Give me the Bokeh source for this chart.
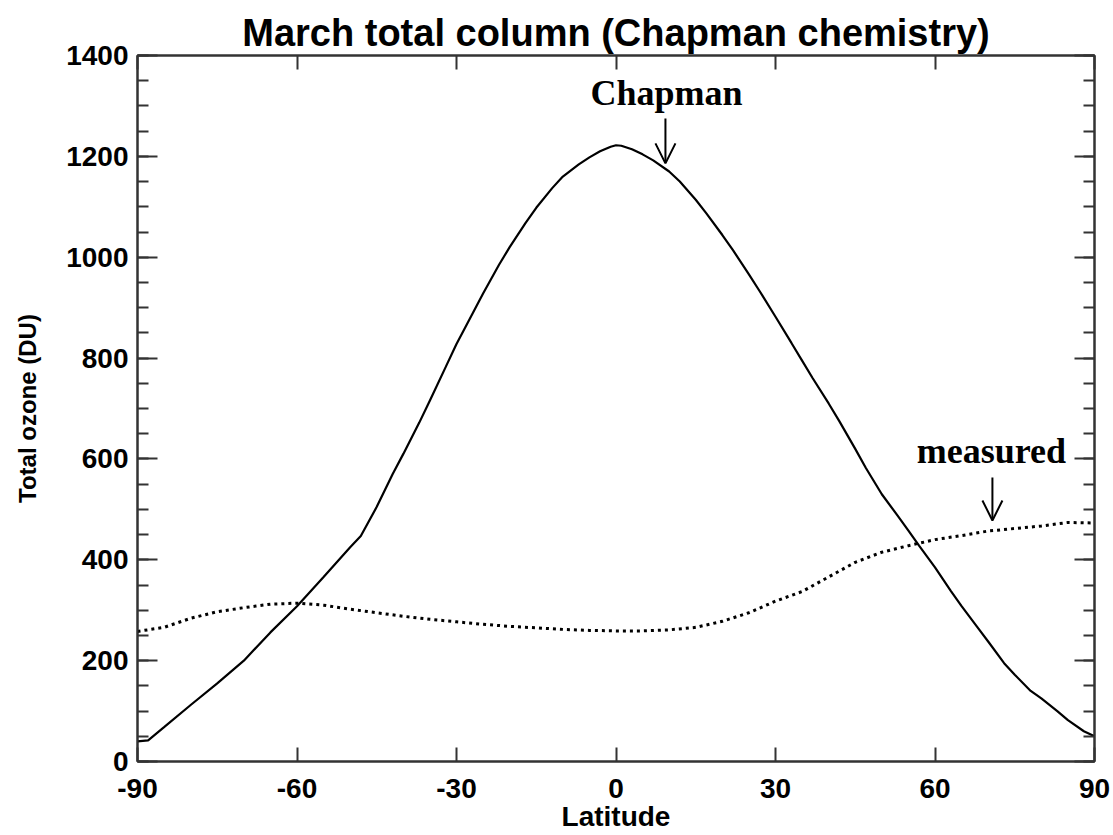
from bokeh.plotting import figure
from bokeh.models import (LinearAxis, SingleIntervalTicker, Range1d, Label,
                          Arrow, OpenHead, CustomLabelingPolicy)
from bokeh.embed import file_html
from bokeh.resources import INLINE

# ---- data ----
chapman_lat = [-90, -88, -85, -80, -75, -70, -65, -60, -55, -50, -48, -45, -42,
               -40, -37, -35, -32, -30, -27, -25, -22, -20, -17, -15, -12, -10,
               -7, -5, -3, -1, 0, 1, 3, 5, 7, 10, 12, 15, 17, 20, 22, 25, 27,
               30, 33, 35, 37, 40, 42, 45, 47, 50, 53, 55, 57, 60, 63, 65, 68,
               70, 73, 75, 78, 80, 83, 85, 88, 90]
chapman_du = [40, 42, 68, 112, 155, 200, 256, 308, 366, 425, 447, 505, 570,
              610, 672, 716, 783, 828, 888, 928, 985, 1020, 1068, 1098, 1137,
              1160, 1184, 1198, 1210, 1219, 1222, 1221, 1214, 1204, 1192, 1170,
              1150, 1114, 1087, 1044, 1014, 966, 933, 882, 830, 795, 760, 710,
              675, 620, 582, 530, 487, 458, 428, 385, 338, 308, 266, 238, 195,
              172, 140, 125, 100, 82, 60, 50]

measured_lat = [-90, -85, -80, -75, -70, -65, -60, -55, -50, -45, -40, -35,
                -30, -25, -20, -15, -10, -5, 0, 5, 10, 15, 20, 25, 30, 35, 40,
                45, 50, 55, 60, 65, 70, 75, 80, 85, 90]
measured_du = [258, 266, 284, 297, 305, 312, 314, 310, 302, 295, 288, 282,
               277, 272, 268, 265, 262, 260, 259, 259, 261, 266, 278, 295, 318,
               337, 366, 395, 415, 428, 440, 448, 457, 462, 467, 474, 473]

x_tick_values = [-90, -60, -30, 0, 30, 60, 90]
x_tick_labels = ["-90", "-60", "-30", "0", "30", "60", "90"]

FONT = "Liberation Sans"
SERIF = "Liberation Serif"
AXIS_COLOR = "#333333"

p = figure(width=1113, height=835, output_backend="svg", toolbar_location=None,
           x_range=Range1d(-90, 90), y_range=Range1d(0, 1400),
           min_border_left=137, min_border_right=19,
           min_border_top=55, min_border_bottom=74,
           background_fill_color="white", border_fill_color="white")

p.title.text = "March total column (Chapman chemistry)"
p.title.align = "center"
p.title.text_font = FONT
p.title.text_font_style = "bold"
p.title.text_font_size = "38px"
p.title.text_color = "black"
p.title.standoff = 4
p.title.offset = 0

p.xgrid.grid_line_color = None
p.ygrid.grid_line_color = None
p.outline_line_color = AXIS_COLOR
p.outline_line_width = 2

xt = SingleIntervalTicker(interval=30, num_minor_ticks=0)
yt = SingleIntervalTicker(interval=200, num_minor_ticks=4)

no_labels = CustomLabelingPolicy(
    code="for (const i of indices) { indices.unset(i) } return indices")


def style_axis(ax, tick_in, minor_in, labels=True):
    ax.axis_line_color = AXIS_COLOR
    ax.axis_line_width = 2
    ax.major_tick_line_color = AXIS_COLOR
    ax.minor_tick_line_color = AXIS_COLOR
    ax.major_tick_line_width = 2
    ax.minor_tick_line_width = 2
    ax.major_tick_in = tick_in
    ax.major_tick_out = 0
    ax.minor_tick_in = minor_in
    ax.minor_tick_out = 0
    if labels:
        ax.major_label_text_font = FONT
        ax.major_label_text_font_style = "bold"
        ax.major_label_text_font_size = "28px"
        ax.major_label_text_color = "black"
    else:
        ax.major_label_policy = no_labels
        ax.major_label_text_font_size = "0px"
        ax.major_label_standoff = 0


# bottom axis
xb = p.xaxis[0]
xb.ticker = xt
style_axis(xb, 14, 0)
xb.major_label_overrides = dict(zip(x_tick_values, x_tick_labels))
xb.major_label_standoff = 17
xb.axis_label = "Latitude"
xb.axis_label_text_font = FONT
xb.axis_label_text_font_style = "bold"
xb.axis_label_text_font_size = "28px"
xb.axis_label_text_color = "black"
xb.axis_label_standoff = 0

# left axis
yl = p.yaxis[0]
yl.ticker = yt
style_axis(yl, 20, 11)
yl.major_label_standoff = 9
yl.axis_label = "Total ozone (DU)"
yl.axis_label_text_font = FONT
yl.axis_label_text_font_style = "bold"
yl.axis_label_text_font_size = "24px"
yl.axis_label_text_color = "black"
yl.axis_label_standoff = 22

# top and right mirror axes (ticks only)
xtop = LinearAxis(ticker=xt)
style_axis(xtop, 14, 0, labels=False)
p.add_layout(xtop, "above")

yr = LinearAxis(ticker=yt)
style_axis(yr, 20, 11, labels=False)
p.add_layout(yr, "right")

# curves
p.line(chapman_lat, chapman_du, line_color="black", line_width=2.2)
p.line(measured_lat, measured_du, line_color="black", line_width=3,
       line_dash="3 4")

# annotations
p.add_layout(Label(x=9.5, y=1326, text="Chapman", text_font=SERIF,
                   text_font_style="bold", text_font_size="36px",
                   text_align="center", text_baseline="alphabetic",
                   text_color="black"))
p.add_layout(Arrow(end=OpenHead(size=20, line_width=2, line_color="black"),
                   x_start=9.3, y_start=1275, x_end=9.3, y_end=1186,
                   line_width=2, line_color="black"))

p.add_layout(Label(x=70.6, y=615, text="measured", text_font=SERIF,
                   text_font_style="bold", text_font_size="36px",
                   text_align="center", text_baseline="alphabetic",
                   text_color="black"))
p.add_layout(Arrow(end=OpenHead(size=20, line_width=2, line_color="black"),
                   x_start=70.8, y_start=563, x_end=70.8, y_end=478,
                   line_width=2, line_color="black"))

open("out.html", "w").write(file_html(p, INLINE))
